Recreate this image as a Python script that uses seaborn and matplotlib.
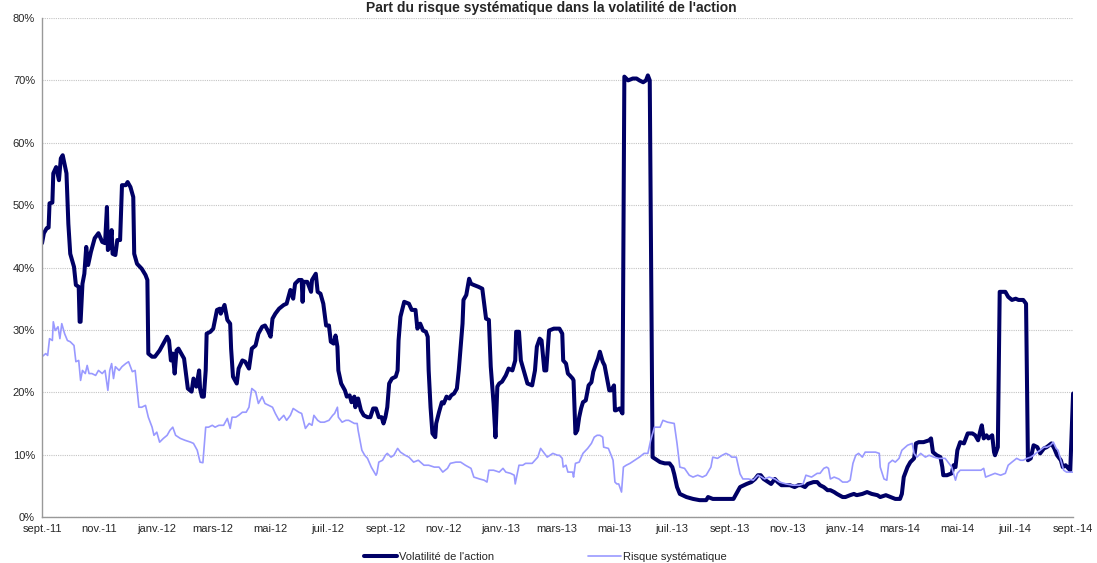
import seaborn as sns
import pandas as pd
import matplotlib.pyplot as plt
from matplotlib.ticker import FuncFormatter, MultipleLocator

# Date de départ de la série (les jours sont comptés à partir de cette date)
debut = pd.Timestamp('2011-09-01')

# Volatilité de l'action (en %)
jours_vol = [
    0, 2, 5, 7, 8, 11, 12, 15, 18, 20, 22, 26, 28, 30, 33, 34, 36, 39, 40, 41,
    43, 45, 47, 49, 52, 56, 60, 64, 67, 69, 70, 72, 74, 75, 78, 80, 83, 85, 89, 91,
    94, 97, 98, 101, 106, 110, 112, 113, 117, 120, 125, 129, 133, 135, 137, 139, 141, 143, 145, 148,
    151, 153, 155, 159, 161, 164, 167, 168, 170, 172, 174, 175, 179, 182, 186, 189, 190, 194, 197, 200,
    201, 203, 207, 209, 213, 216, 220, 223, 227, 230, 234, 237, 240, 243, 245, 248, 252, 257, 260, 264,
    267, 269, 273, 276, 277, 278, 282, 286, 287, 291, 293, 296, 299, 302, 305, 307, 310, 312, 314, 315,
    318, 322, 324, 327, 329, 332, 333, 336, 339, 342, 346, 349, 352, 355, 358, 361, 363, 365, 367, 369,
    372, 376, 378, 379, 381, 385, 390, 393, 397, 399, 402, 405, 408, 410, 411, 413, 415, 418, 419, 422,
    425, 427, 430, 433, 435, 438, 441, 443, 445, 447, 448, 451, 454, 456, 459, 464, 468, 470, 472, 475,
    477, 480, 482, 484, 486, 489, 493, 496, 500, 503, 504, 507, 509, 512, 516, 521, 524, 526, 529, 531,
    534, 536, 539, 544, 548, 550, 553, 554, 557, 559, 561, 564, 565, 567, 569, 571, 573, 575, 578, 581,
    584, 586, 589, 591, 593, 596, 598, 601, 603, 605, 608, 609, 610, 614, 617, 619, 623, 628, 632, 635,
    639, 642, 644, 646, 649, 651, 657, 662, 667, 670, 672, 675, 678, 685, 692, 699, 706, 708, 713, 720,
    727, 735, 738, 742, 749, 754, 758, 761, 764, 767, 772, 775, 779, 782, 786, 789, 795, 800, 804, 807,
    811, 814, 820, 824, 827, 831, 835, 838, 842, 845, 851, 854, 859, 863, 866, 872, 877, 882, 888, 891,
    897, 902, 907, 912, 914, 916, 920, 923, 927, 929, 932, 937, 943, 945, 947, 951, 955, 957, 958, 962,
    967, 969, 971, 973, 976, 980, 984, 989, 992, 995, 998, 999, 1001, 1004, 1006, 1010, 1012, 1013, 1016, 1018,
    1024, 1027, 1031, 1035, 1038, 1043, 1046, 1048, 1051, 1054, 1058, 1061, 1065, 1068, 1073, 1076, 1079, 1083, 1085, 1088,
    1091, 1093, 1096,
]
vol_action = [
    43.9, 45.5, 46.3, 46.4, 50.3, 50.4, 55.1, 56.1, 54.0, 57.5, 58.0, 55.1, 47.0, 42.2, 40.6, 40.1, 37.2, 36.9, 31.3, 31.3,
    37.4, 39.0, 43.3, 40.4, 42.5, 44.7, 45.5, 44.1, 43.9, 49.7, 42.8, 43.3, 46.0, 42.2, 42.0, 44.4, 44.4, 53.2, 53.2, 53.7,
    52.9, 51.3, 42.2, 40.6, 39.8, 38.8, 38.0, 26.2, 25.7, 25.7, 26.7, 27.8, 28.9, 28.3, 25.1, 26.2, 23.0, 26.7, 27.0, 26.2,
    25.4, 23.0, 20.6, 20.1, 22.2, 20.9, 23.5, 20.6, 19.3, 19.3, 23.5, 29.4, 29.7, 30.2, 33.2, 33.4, 32.6, 34.0, 31.6, 31.0,
    27.0, 22.5, 21.4, 23.8, 25.1, 24.9, 23.8, 27.0, 27.5, 29.4, 30.5, 30.7, 29.9, 28.9, 31.8, 32.6, 33.4, 34.0, 34.2, 36.4,
    35.0, 37.4, 38.0, 38.0, 34.5, 37.7, 37.7, 36.1, 38.0, 39.0, 36.1, 35.8, 34.2, 30.7, 30.7, 28.1, 27.8, 29.1, 27.3, 23.5,
    21.4, 20.3, 19.3, 19.5, 18.4, 19.3, 17.6, 19.0, 17.1, 16.3, 16.0, 16.0, 17.4, 17.4, 16.0, 16.0, 15.0, 16.0, 17.6, 21.4,
    22.2, 22.5, 23.5, 28.3, 32.1, 34.5, 34.2, 33.2, 33.2, 30.2, 31.0, 29.9, 29.7, 28.9, 23.5, 17.6, 13.4, 12.8, 15.0, 16.8,
    18.4, 18.2, 19.3, 19.0, 19.5, 19.8, 20.6, 23.5, 27.3, 31.0, 34.8, 35.6, 38.2, 37.4, 37.2, 36.9, 36.6, 34.2, 31.8, 31.6,
    24.1, 18.2, 12.8, 20.9, 21.4, 21.7, 22.7, 23.8, 23.5, 25.1, 29.7, 29.7, 25.1, 23.5, 21.4, 21.1, 23.5, 27.3, 28.6, 28.3,
    23.5, 23.5, 29.9, 30.2, 30.2, 30.2, 29.4, 25.1, 24.6, 23.0, 22.7, 22.2, 21.9, 13.4, 13.9, 16.0, 17.4, 18.4, 18.7, 21.1,
    21.6, 23.3, 24.6, 25.4, 26.5, 24.9, 24.3, 21.9, 20.3, 20.3, 21.1, 17.1, 17.1, 17.4, 16.6, 70.6, 70.0, 70.3, 70.3, 70.0,
    69.7, 70.0, 70.8, 70.0, 9.6, 9.4, 8.8, 8.6, 8.6, 8.0, 6.9, 4.8, 3.7, 3.2, 2.9, 2.7, 2.7, 3.2, 2.9, 2.9,
    2.9, 2.9, 3.7, 4.8, 5.3, 5.6, 6.1, 6.7, 6.7, 6.1, 5.6, 5.3, 6.1, 5.6, 5.1, 5.1, 5.1, 4.8, 5.1, 5.1,
    4.8, 5.3, 5.6, 5.6, 5.1, 4.8, 4.3, 4.3, 4.0, 3.7, 3.2, 3.2, 3.5, 3.7, 3.5, 3.7, 4.0, 3.7, 3.5, 3.2,
    3.5, 3.2, 2.9, 2.9, 3.7, 6.4, 8.0, 8.8, 9.4, 11.8, 12.0, 12.0, 12.3, 12.6, 10.4, 9.9, 9.6, 8.0, 6.7, 6.7,
    7.0, 8.3, 8.0, 10.7, 12.0, 11.8, 13.4, 13.4, 13.1, 12.3, 14.2, 14.7, 12.6, 13.1, 12.6, 13.1, 10.4, 9.9, 11.2, 36.1,
    36.1, 35.3, 34.8, 35.0, 34.8, 34.8, 34.2, 9.1, 9.4, 11.5, 11.2, 10.2, 11.0, 11.2, 11.8, 11.0, 9.9, 9.1, 8.0, 8.3,
    7.8, 7.5, 19.8,
]

# Risque systématique (en %)
jours_risque = [
    0, 4, 6, 8, 11, 12, 14, 17, 19, 21, 24, 27, 30, 34, 36, 39, 41, 43, 46, 48,
    50, 53, 57, 60, 64, 67, 70, 72, 74, 76, 78, 82, 85, 89, 92, 96, 99, 103, 106, 110,
    113, 117, 119, 122, 125, 129, 133, 136, 139, 142, 147, 152, 158, 161, 165, 168, 171, 174, 177, 181,
    184, 188, 193, 197, 200, 202, 206, 209, 213, 217, 220, 221, 223, 227, 230, 234, 237, 241, 245, 248,
    252, 257, 260, 264, 267, 270, 273, 276, 280, 284, 287, 289, 293, 296, 300, 305, 309, 311, 314, 315,
    319, 323, 326, 332, 335, 336, 340, 343, 346, 350, 355, 356, 358, 362, 365, 367, 371, 374, 378, 381,
    386, 390, 395, 400, 406, 411, 417, 422, 426, 431, 434, 440, 445, 450, 456, 459, 465, 470, 473, 475,
    480, 486, 490, 493, 498, 502, 503, 507, 511, 514, 518, 521, 527, 530, 534, 537, 543, 548, 550, 553,
    554, 557, 559, 564, 565, 567, 571, 575, 580, 584, 587, 590, 593, 596, 597, 602, 605, 607, 609, 611,
    613, 616, 618, 621, 625, 630, 635, 640, 644, 647, 651, 657, 660, 665, 672, 675, 678, 683, 688, 692,
    697, 702, 706, 711, 713, 718, 723, 727, 731, 733, 738, 742, 745, 751, 756, 761, 765, 768, 773, 779,
    784, 791, 798, 805, 809, 812, 818, 824, 827, 831, 834, 836, 838, 842, 847, 851, 856, 859, 862, 865,
    868, 872, 875, 881, 886, 890, 891, 895, 898, 900, 904, 907, 911, 914, 920, 925, 927, 930, 934, 939,
    943, 948, 953, 960, 964, 967, 971, 973, 976, 983, 990, 998, 1001, 1003, 1008, 1013, 1019, 1024, 1027, 1031,
    1036, 1040, 1043, 1047, 1051, 1054, 1058, 1061, 1065, 1068, 1072, 1075, 1078, 1080, 1084, 1086, 1089, 1092, 1096,
]
risque_syst = [
    25.7, 26.2, 25.9, 28.6, 28.3, 31.3, 29.9, 30.5, 28.6, 31.0, 29.4, 28.3, 28.1, 27.5, 24.9, 25.1, 21.9, 23.5, 23.0, 24.3,
    23.0, 23.0, 22.7, 23.5, 23.0, 23.5, 20.3, 23.5, 24.6, 22.2, 24.1, 23.5, 24.1, 24.6, 24.9, 23.3, 23.5, 17.6, 17.6, 17.9,
    16.0, 14.4, 13.1, 13.6, 12.0, 12.6, 13.1, 13.9, 14.4, 13.1, 12.6, 12.3, 12.0, 11.8, 10.7, 8.8, 8.7, 14.4, 14.4, 14.7,
    14.4, 14.7, 14.7, 15.8, 14.2, 16.0, 16.0, 16.3, 16.8, 16.8, 17.6, 18.7, 20.6, 20.1, 18.2, 19.3, 18.2, 17.9, 17.6, 16.6,
    15.5, 16.3, 15.5, 16.3, 17.4, 17.1, 16.8, 16.6, 14.2, 15.0, 14.7, 16.3, 15.5, 15.2, 15.2, 15.5, 16.3, 16.6, 17.6, 16.0,
    15.2, 15.5, 15.5, 15.0, 15.0, 13.9, 10.7, 9.9, 9.4, 8.0, 6.7, 7.0, 8.8, 9.1, 9.9, 10.2, 9.6, 9.9, 11.0, 10.4,
    9.9, 9.6, 8.8, 9.1, 8.3, 8.3, 8.0, 8.0, 7.2, 7.8, 8.6, 8.8, 8.8, 8.3, 7.8, 6.4, 6.1, 5.9, 5.6, 7.5,
    7.5, 7.2, 7.8, 7.2, 7.0, 6.7, 5.3, 8.3, 8.3, 8.6, 8.6, 8.6, 9.6, 11.0, 10.2, 9.6, 10.2, 9.9, 9.9, 9.4,
    8.0, 8.3, 7.2, 7.2, 6.4, 8.6, 8.8, 10.2, 11.0, 11.8, 12.8, 13.1, 13.1, 12.8, 11.2, 11.0, 9.9, 9.1, 5.6, 5.3,
    5.3, 4.0, 8.0, 8.3, 8.6, 9.1, 9.6, 10.2, 10.2, 12.3, 14.4, 14.4, 15.5, 15.2, 15.0, 11.8, 8.0, 7.8, 6.7, 6.4,
    6.7, 6.4, 6.7, 8.0, 9.6, 9.4, 9.9, 10.2, 9.9, 9.6, 9.6, 6.9, 6.1, 6.1, 5.9, 6.7, 6.4, 6.1, 6.4, 6.1,
    5.6, 5.3, 5.1, 5.1, 5.3, 6.7, 6.4, 7.0, 7.0, 7.8, 8.0, 7.8, 6.1, 6.4, 6.1, 5.6, 5.6, 5.9, 8.6, 9.9,
    10.2, 9.6, 10.4, 10.4, 10.4, 10.2, 8.0, 6.1, 5.9, 8.6, 9.1, 8.8, 9.4, 10.7, 11.5, 11.8, 10.2, 9.6, 10.2, 9.6,
    9.9, 9.6, 9.4, 9.4, 8.6, 8.0, 5.9, 7.0, 7.5, 7.5, 7.5, 7.5, 7.8, 6.4, 6.7, 7.0, 6.7, 7.0, 8.3, 8.8,
    9.4, 9.1, 9.1, 9.4, 9.6, 9.9, 10.4, 10.7, 11.2, 11.2, 11.5, 12.0, 11.0, 10.7, 8.6, 7.5, 7.2, 7.2, 7.2,
]

# Etiquettes de l'axe des dates (tous les deux mois)
mois_labels = [
    'sept.-11', 'nov.-11', 'janv.-12', 'mars-12', 'mai-12', 'juil.-12', 'sept.-12',
    'nov.-12', 'janv.-13', 'mars-13', 'mai-13', 'juil.-13', 'sept.-13', 'nov.-13',
    'janv.-14', 'mars-14', 'mai-14', 'juil.-14', 'sept.-14',
]

titre = "Part du risque systématique dans la volatilité de l'action"

df_vol = pd.DataFrame({'date': debut + pd.to_timedelta(jours_vol, unit='D'), 'valeur': vol_action})
df_risque = pd.DataFrame({'date': debut + pd.to_timedelta(jours_risque, unit='D'), 'valeur': risque_syst})

sns.set_style('white')
plt.rcParams['font.family'] = ['Liberation Sans', 'DejaVu Sans']

fig = plt.figure(figsize=(10.97, 5.63), dpi=100)
ax = fig.add_axes([0.0383, 0.0817, 0.9399, 0.8863])

sns.lineplot(data=df_vol, x='date', y='valeur', ax=ax, color='#000066', linewidth=2.9,
             estimator=None, label="Volatilité de l'action")
sns.lineplot(data=df_risque, x='date', y='valeur', ax=ax, color='#9999FF', linewidth=1.2,
             estimator=None, label='Risque systématique')

ax.set_xlim(debut, pd.Timestamp('2014-09-01'))
ax.set_ylim(0, 80)
ax.yaxis.set_major_locator(MultipleLocator(10))
ax.yaxis.set_major_formatter(FuncFormatter(lambda v, p: f'{v:.0f}%'))
ax.set_xticks(pd.date_range('2011-09-01', '2014-09-01', freq='2MS'))
ax.set_xticklabels(mois_labels)
ax.set_xlabel('')
ax.set_ylabel('')

ax.grid(axis='y', color='#C4C4C4', linestyle=(0, (1, 1)), linewidth=0.8)
ax.set_axisbelow(True)
for s in ['top', 'right']:
    ax.spines[s].set_visible(False)
for s in ['left', 'bottom']:
    ax.spines[s].set_color('#999999')
    ax.spines[s].set_linewidth(1.0)
ax.tick_params(axis='x', direction='inout', length=6, color='#999999', labelsize=8, pad=2)
ax.tick_params(axis='y', direction='out', length=3, color='#999999', labelsize=8, pad=2)

# Titre en haut, collé au bord de la figure
fig.text(0.503, 0.999, titre, ha='center', va='top', fontsize=10, fontweight='bold')

handles, labels = ax.get_legend_handles_labels()
ax.get_legend().remove()
fig.legend(handles, labels, loc='center', bbox_to_anchor=(0.497, 0.011), ncol=2, frameon=False,
           fontsize=8, handlelength=3.0, handletextpad=0.1, columnspacing=8.5)

plt.savefig('out.png', dpi=100)
